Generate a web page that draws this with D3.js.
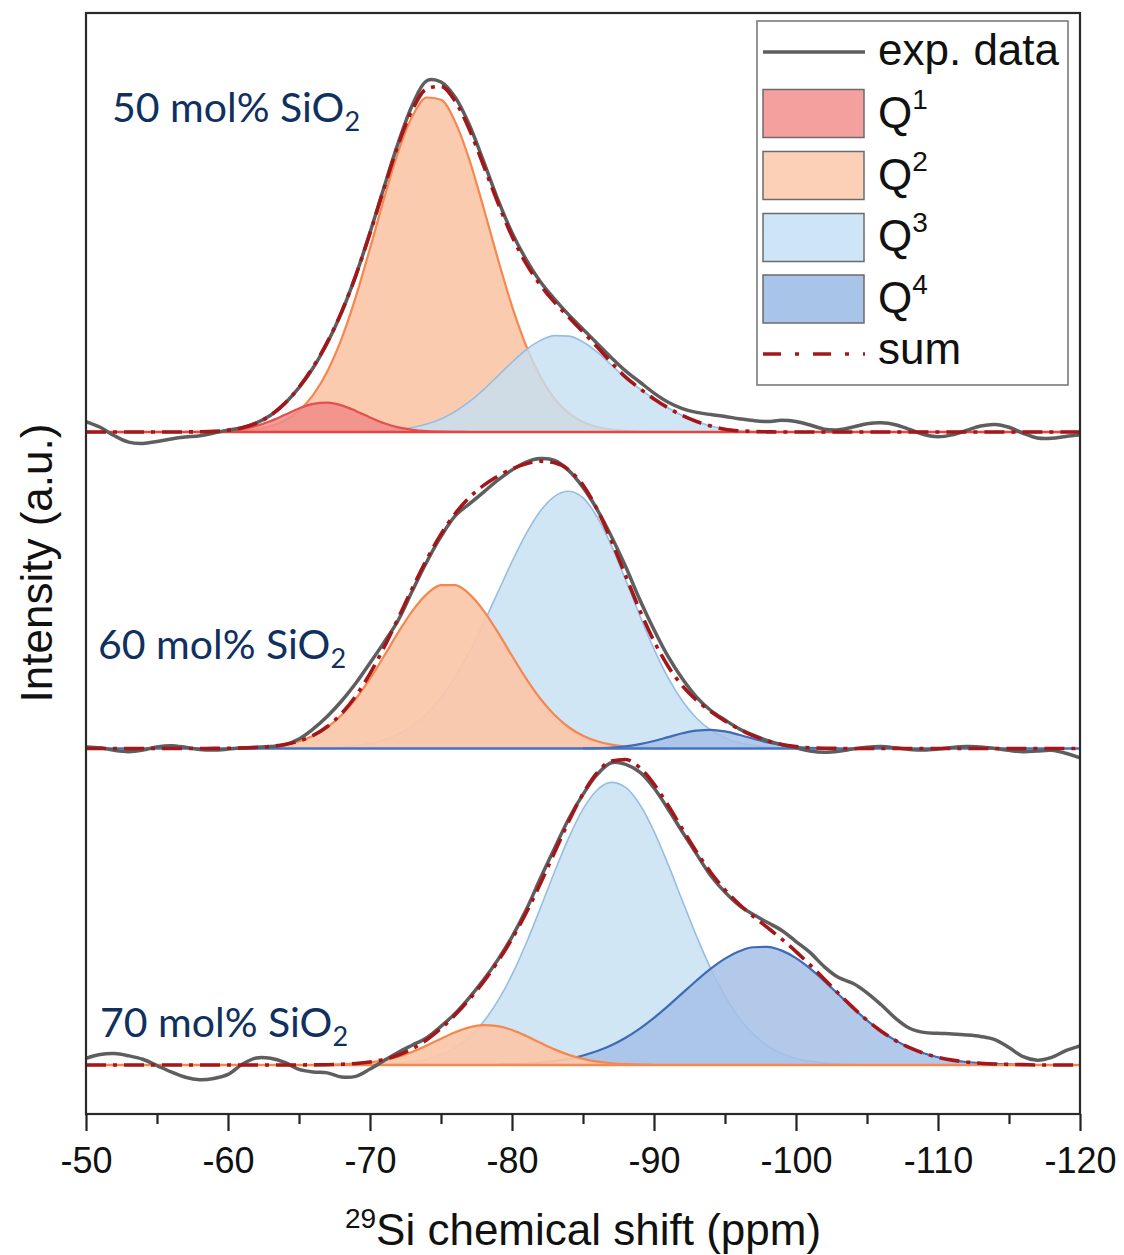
<!DOCTYPE html>
<html><head><meta charset="utf-8">
<script src="https://cdn.jsdelivr.net/npm/d3@7"></script>
<style>
html,body{margin:0;padding:0;background:#fff;}
svg{display:block;}
</style>
</head><body>
<svg id="chart" width="1124" height="1255"></svg>
<script>
// ---------------- DATA ----------------
// chemical shift grid (ppm)
const ppm = [-50,-51,-52,-53,-54,-55,-56,-57,-58,-59,-60,-61,-62,-63,-64,-65,-66,-67,-68,-69,-70,-71,-72,-73,-74,-75,-76,-77,-78,-79,-80,-81,-82,-83,-84,-85,-86,-87,-88,-89,-90,-91,-92,-93,-94,-95,-96,-97,-98,-99,-100,-101,-102,-103,-104,-105,-106,-107,-108,-109,-110,-111,-112,-113,-114,-115,-116,-117,-118,-119,-120];
const majorTicks = [-50,-60,-70,-80,-90,-100,-110,-120];
const minorTicks = [-55,-65,-75,-85,-95,-105,-115];
const sampleNames = ["50 mol% SiO", "60 mol% SiO", "70 mol% SiO"];
const sampleSub = ["2", "2", "2"];
const offsets = [200, 100, 0];   // vertical stacking offsets (a.u.)

// 50 mol% SiO2
const exp50 = [3.3,1.5,-1.2,-3.2,-3.6,-3.0,-2.2,-1.6,-1.2,-0.3,0.6,1.4,2.9,5.3,9.0,14.0,20.3,28.2,37.8,49.5,63.0,77.5,91.5,103.5,111.0,110.6,105.8,97.0,85.5,73.5,63.0,54.5,47.5,42.0,37.0,32.5,28.0,23.5,19.3,15.8,12.3,9.4,7.4,6.2,5.5,4.9,4.2,3.6,3.3,3.7,3.3,2.2,0.9,0.7,1.6,2.6,2.9,2.3,0.8,-0.8,-1.5,-0.9,0.5,1.9,2.4,1.5,-0.4,-1.9,-2.0,-1.4,-0.9];
const sum50 = [0,0,0,0,0,0,0.01,0.02,0.07,0.2,0.55,1.32,2.79,5.29,9.04,14.16,20.6,28.47,37.97,49.45,62.8,77.16,90.92,102.0,108.47,109.23,104.5,95.58,84.19,72.48,61.85,53.19,46.45,40.96,36.25,31.63,26.85,21.93,17.33,13.74,10.45,7.62,5.2,3.3,1.9,0.9,0.4,0.15,0.05,0,0,0,0,0,0,0,0,0,0,0,0,0,0,0,0,0,0,0,0,0,0];
const q1_50 = {start:-57, values:[0.02,0.05,0.14,0.39,0.93,1.92,3.46,5.43,7.45,8.90,9.27,8.43,6.67,4.61,2.77,1.45,0.67,0.27,0.09,0.03,0]};
const q2_50 = {start:-58, values:[0.02,0.06,0.16,0.39,0.87,1.83,3.61,6.71,11.7,19.2,29.5,42.7,58.0,74.0,88.7,99.9,105.7,105.0,98.0,86.0,70.8,54.8,39.8,27.2,17.5,10.5,5.96,3.17,1.59,0.74,0.33,0.14,0.05,0.02]};
const q3_50 = {start:-68, values:[0.04,0.08,0.19,0.39,0.77,1.43,2.50,4.14,6.48,9.58,13.39,17.68,22.05,25.99,28.95,30.46,30.29,28.46,25.26,21.19,17.0,13.6,10.4,7.6,5.2,3.3,1.9,0.9,0.4,0.15,0.05]};

// 60 mol% SiO2
const exp60 = [0.5,0.2,-0.6,-1.0,-0.5,0.5,0.9,0.4,-0.3,-0.5,-0.2,0.2,0.4,0.6,1.2,3.0,6.2,10.2,15.0,20.6,27.0,33.6,40.6,50.0,59.0,67.0,73.5,77.3,81.0,84.8,88.0,90.5,91.6,91.0,87.8,82.5,75.5,67.0,57.5,47.0,37.5,29.0,22.0,16.2,12.0,9.0,6.2,4.2,2.5,1.2,0.2,-0.8,-1.2,-0.9,-0.2,0.4,0.6,0.2,-0.3,-0.5,-0.2,0.3,0.6,0.5,0.0,-0.6,-1.0,-0.8,-0.6,-1.5,-3.0];
const sum60 = [0,0,0,0,0,0,0,0,0.01,0.02,0.06,0.13,0.31,0.63,1.25,2.34,4.14,6.96,11.05,16.60,23.67,32.06,41.31,50.79,59.79,67.72,74.23,79.30,83.14,86.06,88.32,89.97,90.75,90.25,88.01,83.24,75.55,65.62,54.58,43.66,33.89,25.92,19.79,15.22,11.68,8.71,6.14,4.0,2.38,1.26,0.60,0.22,0.08,0.03,0,0,0,0,0,0,0,0,0,0,0,0,0,0,0,0,0];
const q2_60 = {start:-60, values:[0.06,0.13,0.30,0.62,1.22,2.28,4.02,6.71,10.56,15.70,22.06,29.29,36.75,43.56,48.79,51.63,51.63,48.79,43.56,36.75,29.29,22.06,15.70,10.56,6.71,4.02,2.28,1.22,0.62,0.30,0.13,0.06]};
const q3_60 = {start:-66, values:[0.12,0.25,0.49,0.90,1.61,2.77,4.56,7.23,11.0,16.09,22.6,30.51,39.58,49.31,59.03,67.91,75.05,79.69,81.3,79.18,73.15,64.09,53.27,42.0,31.41,22.28,14.99,9.56,5.79,3.33,1.81,0.93,0.46,0.21,0.09]};
const q4_60 = {start:-85, values:[0.04,0.12,0.31,0.69,1.36,2.35,3.58,4.80,5.66,5.89,5.38,4.33,3.07,1.92,1.05,0.51,0.22,0.08,0.03]};

// 70 mol% SiO2
const exp70 = [2.1,3.3,3.6,2.9,1.8,-0.2,-2.2,-3.9,-4.7,-4.3,-3.0,0.2,2.2,2.1,0.8,-1.4,-2.2,-2.5,-3.8,-3.6,-1.3,1.4,4.0,6.3,8.6,12.2,16.3,21.3,26.9,33.2,40.5,49.0,59.0,68.5,77.8,85.5,91.8,95.5,95.0,92.5,87.5,80.8,73.6,66.6,59.8,54.6,50.4,47.5,45.0,42.5,39.0,35.5,31.0,27.6,25.8,22.8,19.0,14.8,11.6,10.3,10.0,9.8,9.5,9.0,8.0,5.5,2.6,1.5,2.4,4.5,6.0];
const sum70 = [0,0,0,0,0,0,0,0,0,0,0,0,0,0,0,0,0.03,0.08,0.20,0.45,0.93,1.77,3.13,5.17,7.97,11.55,15.83,20.76,26.29,32.66,39.84,48.08,57.32,67.21,76.99,85.71,92.32,96.05,96.54,93.90,88.75,81.96,74.54,67.30,60.82,55.32,50.77,46.91,43.37,39.74,35.82,31.57,27.09,22.55,18.18,14.11,10.65,7.76,5.45,3.70,2.42,1.53,0.93,0.55,0.31,0.17,0.09,0,0,0,0];
const q2_70 = {start:-67, values:[0.08,0.18,0.40,0.81,1.52,2.62,4.18,6.13,8.30,10.34,11.88,12.58,12.28,11.04,9.15,6.99,4.92,3.19,1.91,1.05,0.53,0.25,0.11,0.04]};
const q3_70 = {start:-70, values:[0.12,0.25,0.51,0.99,1.84,3.25,5.49,8.88,13.71,20.23,28.53,38.47,49.56,61.04,71.84,80.82,86.89,89.28,87.68,82.29,73.82,63.29,51.86,40.61,30.40,21.74,14.87,9.72,6.07,3.62,2.06,1.13,0.59,0.29,0.14]};
const q4_70 = {start:-79, values:[0.15,0.27,0.46,0.77,1.25,1.96,2.98,4.38,6.24,8.61,11.50,14.89,18.67,22.68,26.69,30.42,33.58,35.90,37.19,37.30,36.12,33.76,30.44,26.50,22.26,18.04,14.11,10.65,7.76,5.45,3.70,2.42,1.53,0.93,0.55,0.31,0.17,0.09]};

const legendNames = ["exp. data", "Q", "Q", "Q", "Q", "sum"];
const legendSups = ["", "1", "2", "3", "4", ""];

// ---------------- LAYOUT / STYLE ----------------
const W = 1124, H = 1255;
const L = 86, R = 1080, T = 13, B = 1114;
const x = d3.scaleLinear().domain([-50, -120]).range([L, R]);
const y = d3.scaleLinear().domain([-15.5, 332.4]).range([B, T]);

const compStyle = {
  Q1: {fill: "#ef8c88", stroke: "#e3504d", op: 0.85},
  Q2: {fill: "#fbc7a8", stroke: "#f5874f", op: 0.92},
  Q3: {fill: "#c6e0f3", stroke: "#95bee2", op: 0.8},
  Q4: {fill: "#a5c0e6", stroke: "#3e6bb6", op: 0.85}
};
const legendFill = ["", "#f4a09e", "#fcd0b6", "#cde5f6", "#a9c4e9", ""];

const panels = [
  {exp: exp50, sum: sum50, comps: {Q2: q2_50, Q3: q3_50, Q1: q1_50}, order: ["Q2","Q3","Q1"], base: "#ea4440",
   lx: 112, ly: 122},
  {exp: exp60, sum: sum60, comps: {Q3: q3_60, Q2: q2_60, Q4: q4_60}, order: ["Q3","Q2","Q4"], base: "#4472c4",
   lx: 98, ly: 659},
  {exp: exp70, sum: sum70, comps: {Q3: q3_70, Q4: q4_70, Q2: q2_70}, order: ["Q3","Q4","Q2"], base: "#f5874f",
   lx: 100, ly: 1037}
];

const svg = d3.select("#chart");
svg.append("rect").attr("width", W).attr("height", H).attr("fill", "#fff");
svg.append("defs").append("clipPath").attr("id", "plotclip")
  .append("rect").attr("x", L).attr("y", T).attr("width", R - L).attr("height", B - T);

const plot = svg.append("g").attr("clip-path", "url(#plotclip)");

function compPoints(c) {
  const i0 = ppm.indexOf(c.start);
  return c.values.map((v, i) => [ppm[i0 + i], v]);
}

panels.forEach((p, k) => {
  const off = offsets[k];
  const area = d3.area().x(d => x(d[0])).y0(y(off)).y1(d => y(off + d[1])).curve(d3.curveMonotoneX);
  const line = d3.line().x(d => x(d[0])).y(d => y(off + d[1])).curve(d3.curveMonotoneX);
  const g = plot.append("g");
  p.order.forEach(name => {
    const pts = compPoints(p.comps[name]);
    g.append("path").attr("d", area(pts)).attr("fill", compStyle[name].fill).attr("fill-opacity", compStyle[name].op);
    g.append("path").attr("d", line(pts)).attr("fill", "none")
      .attr("stroke", compStyle[name].stroke).attr("stroke-width", name === "Q3" ? 1.6 : 2.2);
  });
  // baseline of fitted components
  g.append("line").attr("x1", x(-50)).attr("x2", x(-120)).attr("y1", y(off)).attr("y2", y(off))
    .attr("stroke", p.base).attr("stroke-width", 2.6);
  // experimental data
  const expLine = d3.line().x((d, i) => x(ppm[i])).y(d => y(off + d)).curve(d3.curveCatmullRom.alpha(0.5));
  g.append("path").attr("d", expLine(p.exp)).attr("fill", "none")
    .attr("stroke", "#5e5e5e").attr("stroke-width", 3.5).attr("stroke-linejoin", "round");
  // sum
  const sumLine = d3.line().x((d, i) => x(ppm[i])).y(d => y(off + d)).curve(d3.curveMonotoneX);
  g.append("path").attr("d", sumLine(p.sum)).attr("fill", "none")
    .attr("stroke", "#a3171a").attr("stroke-width", 3.6).attr("stroke-dasharray", "20 7 4 7");

  // sample label
  const t = svg.append("text").attr("x", p.lx).attr("y", p.ly)
    .attr("font-family", "Lato, 'Open Sans', sans-serif").attr("font-size", 41).attr("fill", "#10305f");
  t.append("tspan").text(sampleNames[k]);
  t.append("tspan").attr("font-size", 27).attr("dy", 9).text(sampleSub[k]);
});

// frame
svg.append("rect").attr("x", L).attr("y", T).attr("width", R - L).attr("height", B - T)
  .attr("fill", "none").attr("stroke", "#2a2a2a").attr("stroke-width", 2.2);

// x axis
const font = "'Liberation Sans', Arial, sans-serif";
const axMaj = d3.axisBottom(x).tickValues(majorTicks).tickSize(17).tickPadding(16).tickFormat(d => String(d));
const axMin = d3.axisBottom(x).tickValues(minorTicks).tickSize(10).tickFormat("");
const gMaj = svg.append("g").attr("transform", `translate(0,${B})`).call(axMaj);
const gMin = svg.append("g").attr("transform", `translate(0,${B})`).call(axMin);
[gMaj, gMin].forEach(g => {
  g.select(".domain").remove();
  g.selectAll(".tick line").attr("stroke", "#222").attr("stroke-width", 2.2);
});
gMaj.selectAll(".tick text").attr("font-family", font).attr("font-size", 36).attr("fill", "#111");

// axis titles
const xt = svg.append("text").attr("x", 583).attr("y", 1245).attr("text-anchor", "middle")
  .attr("font-family", font).attr("font-size", 44).attr("fill", "#111");
xt.append("tspan").attr("font-size", 28).attr("dy", -17).text("29");
xt.append("tspan").attr("dy", 17).text("Si chemical shift (ppm)");

svg.append("text").attr("transform", "translate(52,563) rotate(-90)").attr("text-anchor", "middle")
  .attr("font-family", font).attr("font-size", 44).attr("fill", "#111").text("Intensity (a.u.)");

// legend
const lg = svg.append("g");
lg.append("rect").attr("x", 757).attr("y", 21).attr("width", 311).attr("height", 364)
  .attr("fill", "#fff").attr("stroke", "#7a7a7a").attr("stroke-width", 1.6);
const rowY = [52, 113.5, 175.5, 237.5, 299, 354];
const textY = [65, 128, 190, 251, 313, 364];
legendNames.forEach((name, i) => {
  if (i === 0) {
    lg.append("line").attr("x1", 763).attr("x2", 865).attr("y1", rowY[i]).attr("y2", rowY[i])
      .attr("stroke", "#5e5e5e").attr("stroke-width", 3.5);
  } else if (i === 5) {
    lg.append("line").attr("x1", 763).attr("x2", 865).attr("y1", rowY[i]).attr("y2", rowY[i])
      .attr("stroke", "#a3171a").attr("stroke-width", 3.6).attr("stroke-dasharray", "18 14 4 14");
  } else {
    lg.append("rect").attr("x", 763).attr("y", rowY[i] - 24).attr("width", 101).attr("height", 48)
      .attr("fill", legendFill[i]).attr("stroke", "#6b6b6b").attr("stroke-width", 1.5);
  }
  const t = lg.append("text").attr("x", 878).attr("y", textY[i])
    .attr("font-family", font).attr("font-size", 44).attr("fill", "#111");
  t.append("tspan").text(name);
  if (legendSups[i]) t.append("tspan").attr("font-size", 28).attr("dy", -19).text(legendSups[i]);
});
</script>
</body></html>
